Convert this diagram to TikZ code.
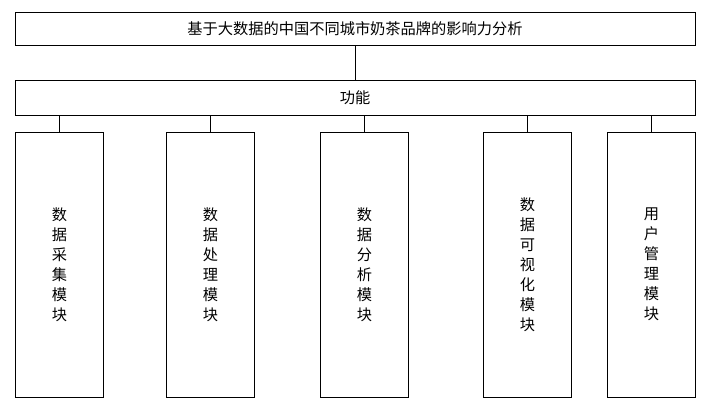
\documentclass[tikz,border=0pt]{standalone}
\usepackage{fontspec}
\newfontfamily\cjk{Noto Sans CJK SC}
\usetikzlibrary{positioning}
\tikzset{
	box/.style={draw, semithick, inner sep=0pt, font=\cjk\fontsize{13}{15}\selectfont},
	modbox/.style={box, minimum width=88*0.03cm, minimum height=265*0.03cm, align=center, text width=1.2em, font=\cjk\fontsize{13}{17}\selectfont}
}
\begin{document}
\begin{tikzpicture}[x=0.03cm, y=-0.03cm]
	\useasboundingbox(0, 0)rectangle(724, 416);
	\node[box, minimum width=680*0.03cm, minimum height=33*0.03cm](top)at(355, 28.5){基于大数据的中国不同城市奶茶品牌的影响力分析};
	\node[box, minimum width=680*0.03cm, minimum height=35*0.03cm](func)at(355, 97.5){功能};
	\draw[semithick](top.south)--(func.north);
	\node[modbox](m1)at(59, 264.5){数\\据\\采\\集\\模\\块};
	\node[modbox](m2)at(210, 264.5){数\\据\\处\\理\\模\\块};
	\node[modbox](m3)at(364, 264.5){数\\据\\分\\析\\模\\块};
	\node[modbox](m4)at(527, 264.5){数\\据\\可\\视\\化\\模\\块};
	\node[modbox](m5)at(651, 264.5){用\\户\\管\\理\\模\\块};
	\foreach \m in {m1, m2, m3, m4, m5}
		\draw[semithick](func.south-|\m.north)--(\m.north);
\end{tikzpicture}
\end{document}
